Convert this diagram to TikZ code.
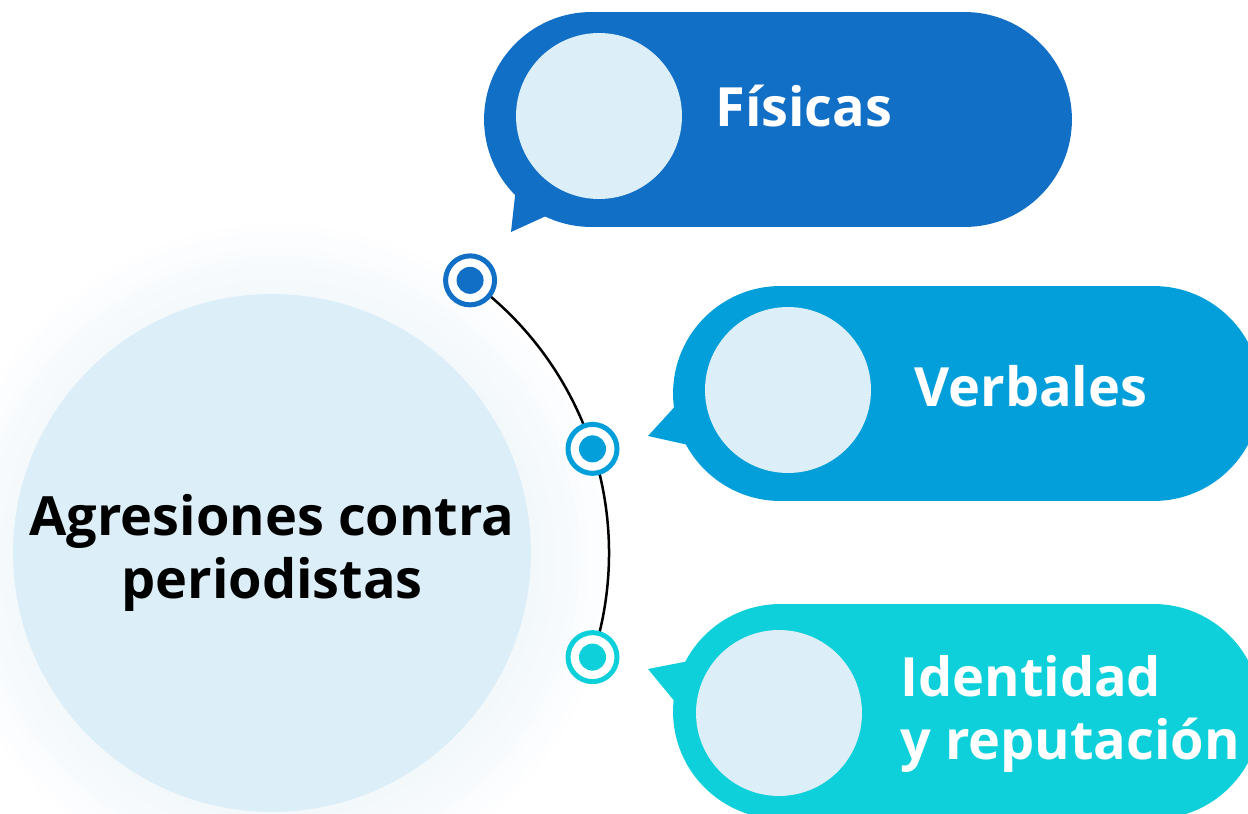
\documentclass[tikz,border=0pt]{standalone}
\usepackage{fontspec}
\setmainfont{Open Sans}
\usepackage{tikz}
\definecolor{fis}{HTML}{116FC6}
\definecolor{verb}{HTML}{029FDA}
\definecolor{iden}{HTML}{0DD0DA}
\definecolor{pale}{HTML}{DCEEF8}
\definecolor{haze}{HTML}{D6E8F3}
\tikzset{
	bubble/.style={rectangle, rounded corners=2.15cm, fill=#1, minimum width=11.76cm, minimum height=4.3cm},
	face/.style={circle, fill=pale, minimum size=3.32cm},
	ring/.style={circle, draw=#1, line width=.1cm, fill=white, minimum size=.98cm, inner sep=0pt},
	tag/.style={text=white, font=\bfseries\fontsize{30.8}{35.8}\selectfont, inner sep=0pt, align=left, anchor=base west}
}

\begin{document}
\begin{tikzpicture}[x=.02cm,y=-.02cm]
\useasboundingbox (0,0) rectangle (1248,814);
\foreach \r in {262,270,...,334}
	\fill[haze, opacity=.035] (278,558) circle (\r);
\node[circle, fill=pale, minimum size=10.36cm, align=center, font=\bfseries\fontsize{30.8}{35.5}\selectfont] (hub) at (272,553) {Agresiones contra\\periodistas};
\path (hub.center) ++(-54:337) coordinate (p1)
	(hub.center) ++(-18:337) coordinate (p2)
	(hub.center) ++(18:337) coordinate (p3);
\draw[line width=.05cm] (p1) arc[start angle=-54, end angle=18, radius=337];
\node[ring=fis] (m1) at (p1) {};
\fill[fis] (m1) circle (13.5);
\node[ring=verb] (m2) at (p2) {};
\fill[verb] (m2) circle (13.5);
\node[ring=iden] (m3) at (p3) {};
\fill[iden] (m3) circle (13.5);

\fill[fis] (511,232) -- (517,178) -- (575,190) -- (568,206) -- cycle;
\node[bubble=fis] (b1) at (778,119.5) {};
\node[face] (f1) at (599,116) {};
\node[tag] (t1) at (715,127) {Físicas};

\fill[verb] (648,436) -- (690,390) -- (720,452) -- cycle;
\node[bubble=verb] (b2) at (967,393.5) {};
\node[face] (f2) at (788,390) {};
\node[tag] (t2) at (914,406) {Verbales};

\fill[iden] (648,669) -- (720,655) -- (690,720) -- cycle;
\node[bubble=iden] (b3) at (967,711.5) {};
\node[face] (f3) at (779,713) {};
\node[tag] (t3) at (900,759) {Identidad\\y reputación};
\end{tikzpicture}
\end{document}
